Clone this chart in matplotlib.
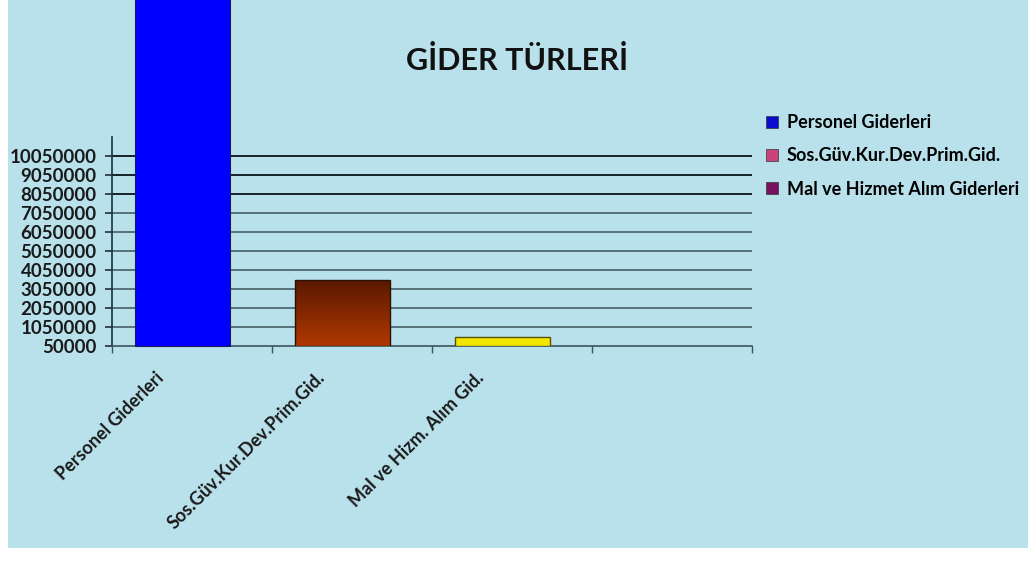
import matplotlib
matplotlib.use("Agg")
import matplotlib.pyplot as plt
import numpy as np
from matplotlib.patches import Rectangle
from matplotlib.lines import Line2D
from matplotlib.colors import LinearSegmentedColormap

categories = ["Personel Giderleri", "Sos.Güv.Kur.Dev.Prim.Gid.", "Mal ve Hizm. Alım Gid.", ""]
values = [18500000, 3500000, 520000, None]
legend_labels = ["Personel Giderleri", "Sos.Güv.Kur.Dev.Prim.Gid.", "Mal ve Hizmet Alım Giderleri"]
legend_colors = ["#0a0ad0", "#c8447a", "#7a1060"]
yticks = [50000, 1050000, 2050000, 3050000, 4050000, 5050000, 6050000,
          7050000, 8050000, 9050000, 10050000]
title = "GİDER TÜRLERİ"

plt.rcParams['font.family'] = ['Lato', 'DejaVu Sans']

fig = plt.figure(figsize=(10.36, 5.61), dpi=100)
fig.patch.set_facecolor("white")
bg = Rectangle((8 / 1036, 13 / 561), 1020 / 1036, 548 / 561, transform=fig.transFigure,
               facecolor="#b9e1eb", edgecolor="none", zorder=-10)
fig.patches.append(bg)

ax = fig.add_axes([112 / 1036, 1 - 346 / 561, 640 / 1036, (346 - 137) / 561])
ax.patch.set_alpha(0)
base = 50000
ymax = 11050000

width = 0.59
offset = -0.06
for i, v in enumerate(values):
    if v is None:
        continue
    x0 = i + 0.5 + offset - width / 2
    if i == 0:
        ax.bar(i + 0.5 + offset, v - base, bottom=base, width=width, color="#0000ff",
               edgecolor="#1a1a60", linewidth=0.8, clip_on=False, zorder=3)
    elif i == 1:
        grad = np.linspace(0, 1, 100).reshape(-1, 1)
        cm = LinearSegmentedColormap.from_list("br", ["#b03800", "#5a1800"])
        ax.imshow(grad, extent=[x0, x0 + width, base, v], origin="lower", aspect="auto",
                  cmap=cm, zorder=3)
        ax.add_patch(Rectangle((x0, base), width, v - base, facecolor="none",
                               edgecolor="#2a1000", linewidth=1.0, zorder=4))
    else:
        ax.bar(i + 0.5 + offset, v - base, bottom=base, width=width, color="#f2e600",
               edgecolor="#5a5000", linewidth=1.0, zorder=3)

ax.set_xlim(0, 4)
ax.set_ylim(base, ymax)

for y in yticks[1:]:
    dark = y >= 8050000
    ax.axhline(y, color="#15232a" if dark else "#3c545c",
               linewidth=1.4 if dark else 1.1, zorder=2)

ax.set_yticks(yticks)
ax.set_yticklabels([str(t) for t in yticks], fontsize=13.5, fontweight="bold", color="#1a1a1a")
ax.tick_params(axis="y", length=5, width=1.2, color="#203038", pad=6)

ax.set_xticks([0, 1, 2, 3, 4])
ax.set_xticklabels([])
ax.tick_params(axis="x", length=5, width=1.0, color="#3c545c", direction="out")
ax.set_xticks([0.5 - 0.19 + k for k in range(3)], minor=True)
ax.set_xticklabels(categories[:3], minor=True, rotation=45, ha="right", va="center",
                   rotation_mode="anchor", fontsize=13, fontweight="bold", color="#1a1a1a")
ax.tick_params(axis="x", which="minor", length=0, pad=21)

for s in ["top", "right"]:
    ax.spines[s].set_visible(False)
ax.spines["left"].set_color("#203038")
ax.spines["left"].set_linewidth(1.2)
ax.spines["bottom"].set_color("#3c545c")
ax.spines["bottom"].set_linewidth(1.2)

fig.text(517 / 1036, 1 - 60 / 561, title, ha="center", va="center", fontsize=22,
         fontweight="bold", color="#111111")

handles = [Line2D([0], [0], marker="s", linestyle="none", markersize=9,
                  markerfacecolor=c, markeredgecolor="#333333", markeredgewidth=0.5)
           for c in legend_colors]
leg = fig.legend(handles, legend_labels, loc="upper left",
                 bbox_to_anchor=(756 / 1036, 1 - 107 / 561), frameon=False,
                 prop={"size": 13, "weight": "bold"}, labelspacing=0.9,
                 handletextpad=0.3, handlelength=1.0, borderaxespad=0)

fig.savefig("out.png", dpi=100)
